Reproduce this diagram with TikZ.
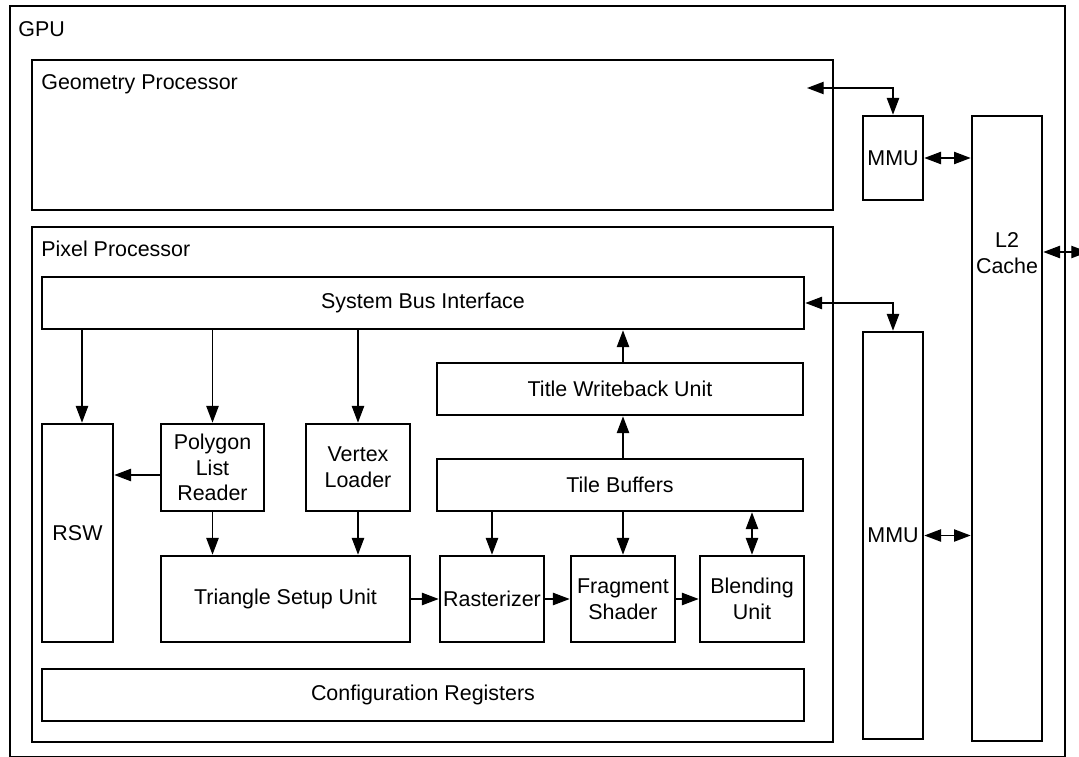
\documentclass[tikz,border=0pt]{standalone}
\usepackage{fontspec}
\setmainfont{Liberation Sans}
\usetikzlibrary{arrows.meta}

\tikzset{
    blk/.style = {draw, line width=1.5pt, inner sep=0pt, align=center},
    lbl/.style = {inner sep=0pt, anchor=base west},
    arr/.style = {line width=0.75pt, -{Triangle[length=9.5pt, width=7pt]}},
    darr/.style = {line width=0.75pt, {Triangle[length=9.5pt, width=7pt]}-{Triangle[length=9.5pt, width=7pt]}},
}

% box from corner (x1,y1) to (x2,y2), in pixels
\newcommand{\pxbox}[6]{%
    \node[blk, minimum width={(#4-#2)*0.02cm}, minimum height={(#5-#3)*0.02cm}]
        (#1) at ({(#2+#4)/2}, {(#3+#5)/2}) {#6};}

\begin{document}
\begin{tikzpicture}[x=0.02cm, y=-0.02cm, font=\fontsize{12.2}{14.6}\selectfont]
    \useasboundingbox (0,0) rectangle (1079,757);

    \pxbox{gpu}{10}{6}{1065}{757}{}
    \node[lbl] (gpulbl) at (18,37) {GPU};

    \pxbox{gp}{32}{60}{833}{210}{}
    \node[lbl] (gplbl) at (41,90) {Geometry Processor};

    \pxbox{pp}{32}{227}{833}{742}{}
    \node[lbl] (pplbl) at (41,256) {Pixel Processor};

    \pxbox{sbi}{42}{277}{804}{329}{System Bus Interface}
    \pxbox{rsw}{42}{424}{113}{642}{RSW}
    \pxbox{plr}{161}{424}{264}{511}{Polygon\\List\\Reader}
    \pxbox{vl}{306}{424}{410}{511}{Vertex\\Loader}
    \pxbox{tsu}{161}{556}{410}{642}{Triangle Setup Unit}
    \pxbox{twu}{437}{363}{803}{415}{Title Writeback Unit}
    \pxbox{tb}{437}{459}{803}{511}{Tile Buffers}
    \pxbox{ras}{440}{556}{544}{642}{Rasterizer}
    \pxbox{fs}{571}{556}{675}{642}{Fragment\\Shader}
    \pxbox{bu}{700}{556}{804}{642}{Blending\\Unit}
    \pxbox{cfg}{42}{669}{804}{721}{Configuration Registers}

    \pxbox{mmua}{863}{116}{923}{200}{MMU}
    \pxbox{mmub}{863}{332}{923}{739}{MMU}
    \pxbox{l2}{972}{116}{1042}{741}{}
    \node[align=center, inner sep=0pt] (l2lbl) at (1007,253) {L2\\Cache};

    \coordinate (gpport) at (807,88);
    \coordinate (ext) at (1088,252);

    \draw[arr] (sbi.south -| 82,0) -- (rsw.north -| 82,0);
    \foreach \n in {plr, vl} {
        \draw[arr] (sbi.south -| \n.north) -- (\n.north);
        \draw[arr] (\n.south) -- (\n.south |- tsu.north);
    }
    \draw[arr] (plr.west |- 0,475) -- (rsw.east |- 0,475);

    \foreach \a/\b in {tsu/ras, ras/fs, fs/bu} {
        \draw[arr] (\a.east) -- (\b.west);
    }
    \draw[arr] (tb.south -| ras.north) -- (ras.north);
    \draw[arr] (tb.south -| fs.north) -- (fs.north);
    \draw[darr] (tb.south -| bu.north) -- (bu.north);
    \draw[arr] (tb.north -| fs.north) -- (twu.south -| fs.north);
    \draw[arr] (twu.north -| fs.north) -- (sbi.south -| fs.north);

    \draw[darr] (gpport) -| (mmua.north);
    \draw[darr] (sbi.east) -| (mmub.north);
    \draw[darr] (mmua.east) -- (mmua.east -| l2.west);
    \draw[darr] (mmub.east) -- (mmub.east -| l2.west);
    \draw[darr] (l2.east |- ext) -- (ext);
\end{tikzpicture}
\end{document}
